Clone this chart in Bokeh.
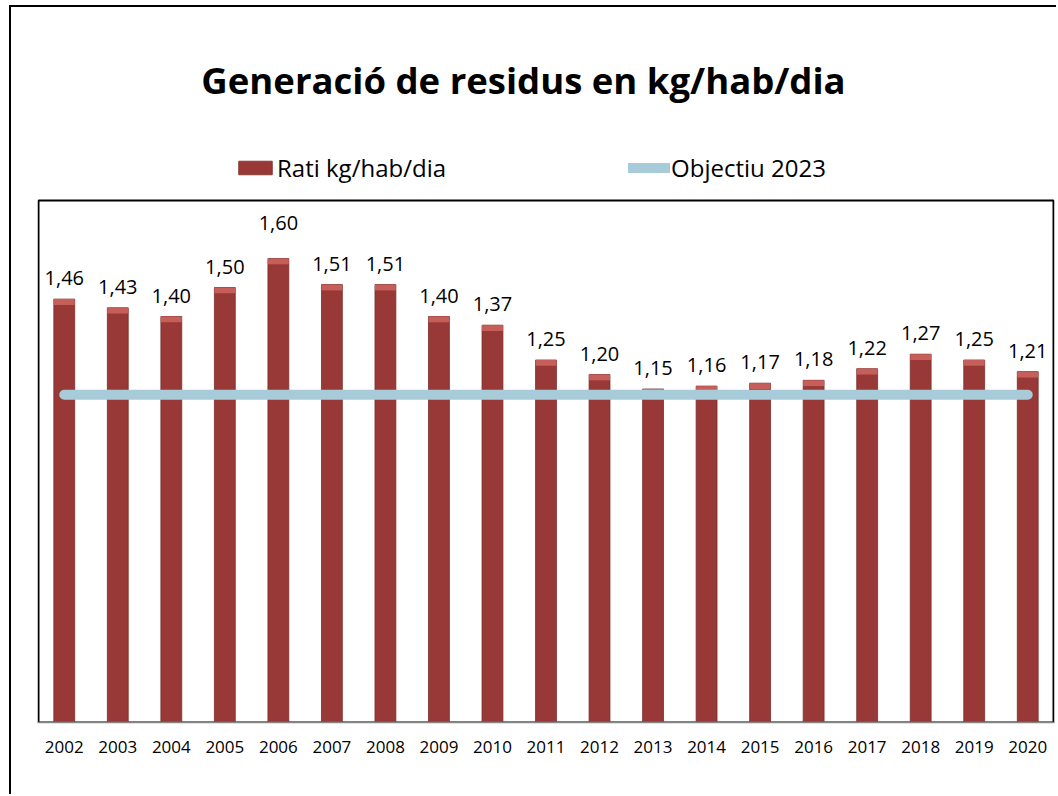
from bokeh.plotting import figure
from bokeh.models import ColumnDataSource, Legend, LegendItem, Label, Range1d, FactorRange, BoxAnnotation
from bokeh.core.properties import value
from bokeh.embed import file_html
from bokeh.resources import INLINE

# ---- data ----
years = ["2002", "2003", "2004", "2005", "2006", "2007", "2008", "2009", "2010", "2011",
         "2012", "2013", "2014", "2015", "2016", "2017", "2018", "2019", "2020"]
ratio = [1.46, 1.43, 1.40, 1.50, 1.60, 1.51, 1.51, 1.40, 1.37, 1.25,
         1.20, 1.15, 1.16, 1.17, 1.18, 1.22, 1.27, 1.25, 1.21]
objectiu_value = 1.13
title_text = "Generació de residus en kg/hab/dia"
series_names = ["Rati kg/hab/dia", "Objectiu 2023"]
axis_max = 1.8

# ---- styling / layout ----
FONT = "Open Sans"
BAR = "#983937"
BAR_EDGE = "#7A2C2A"
BAR_TOP = "#C65E5A"
LINE = "#A7CBD8"
label_nudge = {"2006": -15}  # extra upward shift (px) of a data label

W, H = 1047, 789
MB_LEFT, MB_RIGHT, MB_BOTTOM = 26, 4, 74
PLOT_AREA_TOP = 193          # px from canvas top to the inner plot-area border
frame_h = H - MB_BOTTOM       # frame starts at canvas top
frame_w = W - MB_LEFT - MB_RIGHT
y_end = axis_max * frame_h / (frame_h - PLOT_AREA_TOP)

labels = [f"{v:.2f}".replace(".", ",") for v in ratio]
dy = [-21 + label_nudge.get(y, 0) for y in years]
src = ColumnDataSource(dict(
    year=years,
    ratio=ratio,
    hl=[v - 0.02 for v in ratio],
    obj=[objectiu_value for _ in years],
    label=labels,
    dy=dy,
))

p = figure(
    x_range=FactorRange(*years, range_padding=0),
    y_range=Range1d(0, y_end),
    width=W, height=H,
    output_backend="svg", toolbar_location=None,
    min_border_left=MB_LEFT, min_border_right=MB_RIGHT, min_border_top=0,
    min_border_bottom=MB_BOTTOM,
    styles={"border-left": "2px solid #000", "border-top": "2px solid #000",
            "margin-left": "9px", "margin-top": "5px"},
)
p.background_fill_color = "white"
p.border_fill_color = "white"
p.outline_line_color = None
p.xgrid.visible = False
p.ygrid.visible = False
p.yaxis.visible = False

ax = p.xaxis[0]
ax.major_tick_line_color = None
ax.minor_tick_line_color = None
ax.axis_line_color = "#868686"
ax.axis_line_width = 1.5
ax.major_label_text_font = FONT
ax.major_label_text_font_size = "17px"
ax.major_label_text_color = "black"
ax.major_label_standoff = 12

# inner plot-area border (left, top, right black; bottom is the grey axis line)
p.add_layout(BoxAnnotation(bottom=0, top=axis_max, left=1, right=frame_w - 1,
                           left_units="screen", right_units="screen",
                           fill_alpha=0, line_color="black", line_alpha=1.0,
                           line_width=2, level="underlay"))

r_bar = p.vbar(x="year", top="ratio", width=0.39, fill_color=BAR,
               line_color=BAR_EDGE, line_width=0.8, source=src)
p.vbar(x="year", top="ratio", bottom="hl", width=0.39, fill_color=BAR_TOP,
       line_color=None, source=src)
r_line = p.line(x="year", y="obj", line_width=10, line_color=LINE,
                line_cap="round", source=src)

p.text(x="year", y="ratio", text="label", y_offset="dy", source=src,
       text_align="center", text_baseline="alphabetic",
       text_font=value(FONT), text_font_size="20px", text_color="black")

legend = Legend(
    items=[LegendItem(label=series_names[0], renderers=[r_bar]),
           LegendItem(label=series_names[1], renderers=[r_line])],
    orientation="horizontal", location=(197, 538),
    glyph_width=42, glyph_height=17, label_standoff=1, spacing=182,
    padding=0, margin=0, background_fill_alpha=0, border_line_alpha=0,
    label_text_font=FONT, label_text_font_size="24px", label_text_color="black",
)
p.add_layout(legend)

title = Label(x=486, y=643, x_units="screen", y_units="screen", text=title_text,
              text_align="center", text_baseline="alphabetic",
              text_font=FONT, text_font_style="bold", text_font_size="36.5px",
              text_color="black")
p.add_layout(title)

open("out.html", "w").write(file_html(p, INLINE))
